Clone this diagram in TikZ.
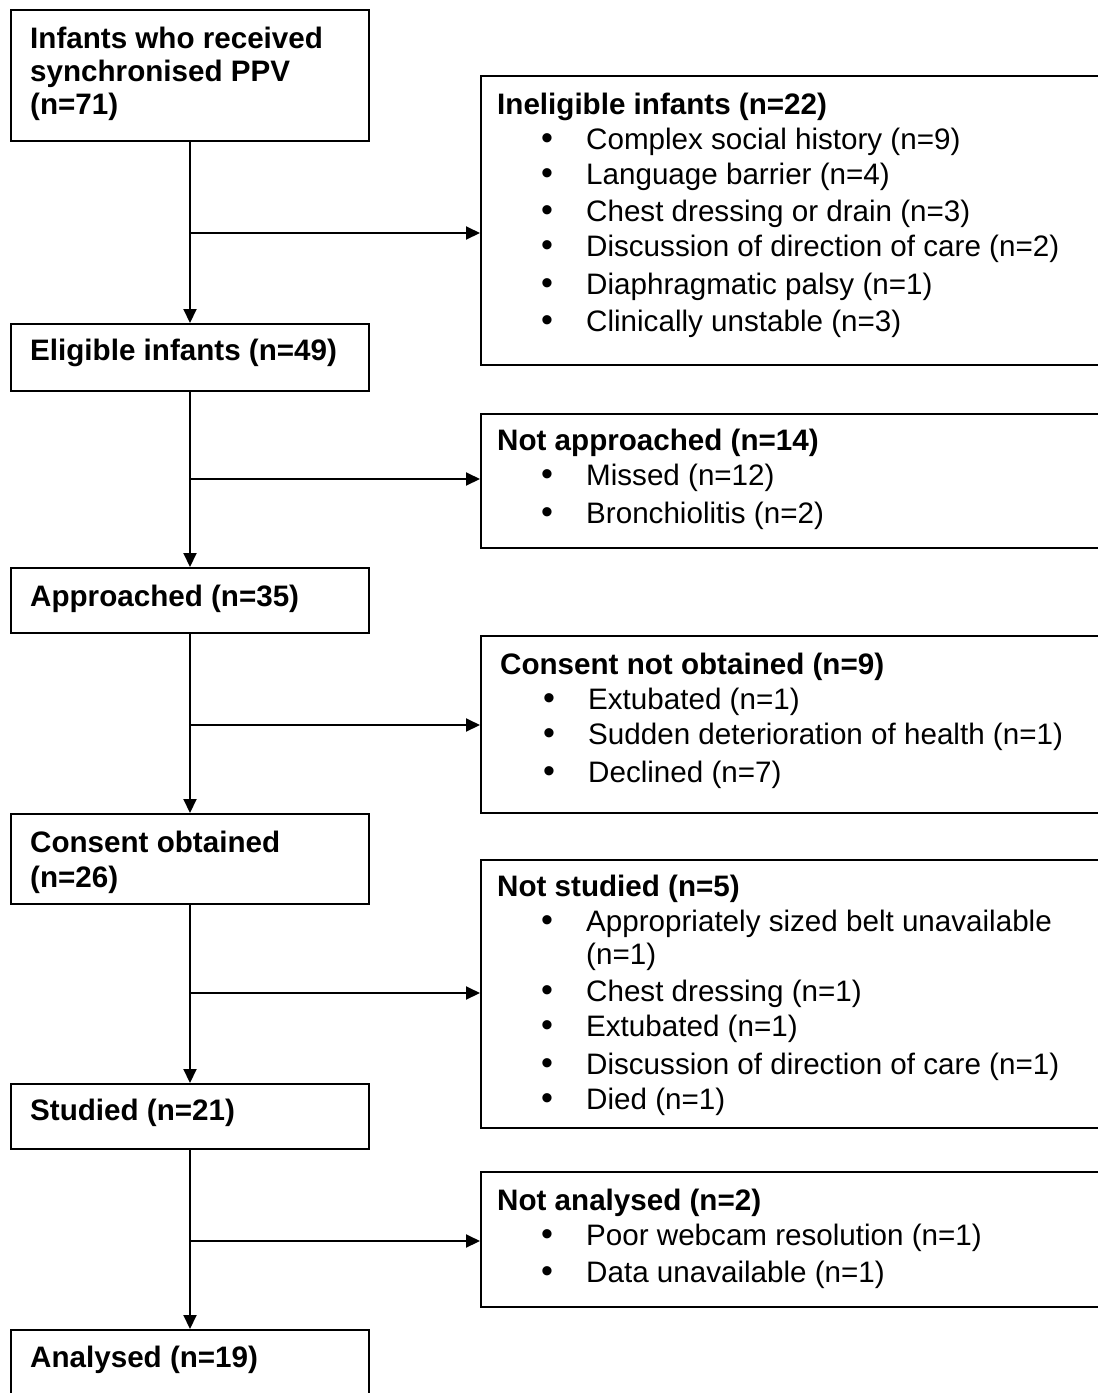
\documentclass[tikz,border=0pt]{standalone}
\usepackage{fontspec}
\setmainfont{Liberation Sans}
\usetikzlibrary{arrows.meta}
\begin{document}
\begin{tikzpicture}[x=1pt,y=-1pt,
  box/.style={draw=black,line width=2pt,rectangle,anchor=north west,inner sep=0pt,fill=white},
  txt/.style={anchor=base west,inner sep=0pt,font=\fontsize{29.6}{33}\selectfont},
  ttl/.style={txt,font=\fontsize{29.6}{33}\selectfont\bfseries},
  bul/.style={anchor=base,inner sep=0pt,text height=18pt,text depth=0pt,font=\fontsize{34}{34}\selectfont},
  arr/.style={line width=2pt,-{Triangle[length=14pt,width=13pt]}}]
\useasboundingbox (0,0) rectangle (1098,1393);
\clip (0,0) rectangle (1098,1393);
\fill[white] (0,0) rectangle (1098,1393);
% left boxes
\node[box,minimum width=358pt,minimum height=131pt] (b1) at (10,9) {};
\node[box,minimum width=358pt,minimum height=67pt] (b2) at (10,323) {};
\node[box,minimum width=358pt,minimum height=65pt] (b3) at (10,567) {};
\node[box,minimum width=358pt,minimum height=90pt] (b4) at (10,813) {};
\node[box,minimum width=358pt,minimum height=65pt] (b5) at (10,1083) {};
\node[box,minimum width=358pt,minimum height=90pt] (b6) at (10,1329) {};
% right boxes
\node[box,minimum width=640pt,minimum height=289pt] (r1) at (480,75) {};
\node[box,minimum width=640pt,minimum height=134pt] (r2) at (480,413) {};
\node[box,minimum width=640pt,minimum height=177pt] (r3) at (480,635) {};
\node[box,minimum width=640pt,minimum height=268pt] (r4) at (480,859) {};
\node[box,minimum width=640pt,minimum height=135pt] (r5) at (480,1171) {};
% left texts
\node[ttl] (t1a) at (30,48) {Infants who received};
\node[ttl] (t1b) at (30,81) {synchronised PPV};
\node[ttl] (t1c) at (30,114) {(n=71)};
\node[ttl] (t2) at (30,360) {Eligible infants (n=49)};
\node[ttl] (t3) at (30,606) {Approached (n=35)};
\node[ttl] (t4a) at (30,852) {Consent obtained};
\node[ttl] (t4b) at (30,887) {(n=26)};
\node[ttl] (t5) at (30,1120) {Studied (n=21)};
\node[ttl] (t6) at (30,1367) {Analysed (n=19)};
% right box 1
\node[ttl] (h1) at (497,114) {Ineligible infants (n=22)};
\foreach \t/\y [count=\i] in {Complex social history (n=9)/149,Language barrier (n=4)/184,Chest dressing or drain (n=3)/221,Discussion of direction of care (n=2)/256,Diaphragmatic palsy (n=1)/294,Clinically unstable (n=3)/331}{
  \node[bul] (p1\i) at (547,\y) {•};
  \node[txt] (i1\i) at (586,\y) {\t};
}
% right box 2
\node[ttl] (h2) at (497,450) {Not approached (n=14)};
\foreach \t/\y [count=\i] in {Missed (n=12)/485,Bronchiolitis (n=2)/523}{
  \node[bul] (p2\i) at (547,\y) {•};
  \node[txt] (i2\i) at (586,\y) {\t};
}
% right box 3
\node[ttl] (h3) at (500,674) {Consent not obtained (n=9)};
\foreach \t/\y [count=\i] in {Extubated (n=1)/709,Sudden deterioration of health (n=1)/744,Declined (n=7)/782}{
  \node[bul] (p3\i) at (549,\y) {•};
  \node[txt] (i3\i) at (588,\y) {\t};
}
% right box 4
\node[ttl] (h4) at (497,896) {Not studied (n=5)};
\node[txt] (i4x) at (586,964) {(n=1)};
\foreach \t/\y [count=\i] in {Appropriately sized belt unavailable/931,Chest dressing (n=1)/1001,Extubated (n=1)/1036,Discussion of direction of care (n=1)/1074,Died (n=1)/1109}{
  \node[bul] (p4\i) at (547,\y) {•};
  \node[txt] (i4\i) at (586,\y) {\t};
}
% right box 5
\node[ttl] (h5) at (497,1210) {Not analysed (n=2)};
\foreach \t/\y [count=\i] in {Poor webcam resolution (n=1)/1245,Data unavailable (n=1)/1282}{
  \node[bul] (p5\i) at (547,\y) {•};
  \node[txt] (i5\i) at (586,\y) {\t};
}
% connectors
\draw[arr] (b1.south) -- (b2.north);
\draw[arr] (b2.south) -- (b3.north);
\draw[arr] (b3.south) -- (b4.north);
\draw[arr] (b4.south) -- (b5.north);
\draw[arr] (b5.south) -- (b6.north);
\coordinate (j1) at (189,233);
\coordinate (j2) at (189,479);
\coordinate (j3) at (189,725);
\coordinate (j4) at (189,993);
\coordinate (j5) at (189,1241);
\draw[arr] (j1) -- (j1 -| r1.west);
\draw[arr] (j2) -- (j2 -| r2.west);
\draw[arr] (j3) -- (j3 -| r3.west);
\draw[arr] (j4) -- (j4 -| r4.west);
\draw[arr] (j5) -- (j5 -| r5.west);
\end{tikzpicture}
\end{document}
